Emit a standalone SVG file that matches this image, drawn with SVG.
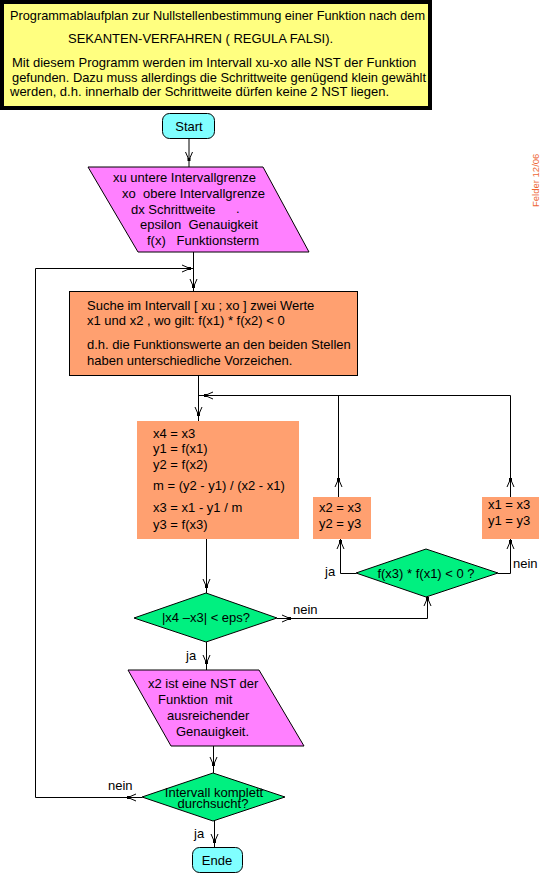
<svg xmlns="http://www.w3.org/2000/svg" xmlns:xlink="http://www.w3.org/1999/xlink" width="548" height="879" viewBox="0 0 548 879">
<style>
text{font-family:"Liberation Sans",Arial,sans-serif;font-size:13px;fill:#000;white-space:pre}
.c{text-anchor:middle}
.ln{fill:none;stroke:#000;stroke-width:1}
.sh{stroke:#000;stroke-width:1}
.cy{fill:#80FFFF}
.mg{fill:#FF80FF}
.or{fill:#FFA070}
.gr{fill:#00F080}
</style>
<defs>
<g id="ah"><path d="M-8,-3.5 L0,0 L-8,3.5" fill="none" stroke="#000" stroke-width="1"/><rect x="-2" y="-1.5" width="3" height="3" fill="#000"/></g>
</defs>
<rect width="548" height="879" fill="#fff"/>

<g id="title">
<rect x="2" y="2" width="428" height="106" fill="#FFFF80"/>
<text x="10" y="20" textLength="415" lengthAdjust="spacingAndGlyphs">Programmablaufplan zur Nullstellenbestimmung einer Funktion nach dem</text>
<text x="68" y="43">SEKANTEN-VERFAHREN ( REGULA FALSI).</text>
<text x="12" y="67">Mit diesem Programm werden im Intervall xu-xo alle NST der Funktion</text>
<text x="12" y="81.5" textLength="414" lengthAdjust="spacingAndGlyphs">gefunden. Dazu muss allerdings die Schrittweite genügend klein gewählt</text>
<text x="10" y="96">werden, d.h. innerhalb der Schrittweite dürfen keine 2 NST liegen.</text>
<rect x="2" y="2" width="428" height="106" fill="none" stroke="#000" stroke-width="4"/>
</g>

<g id="author">
<text transform="translate(539,207) rotate(-90)" style="font-size:9.5px;fill:#EE6633">Felder 12/06</text>
</g>

<g id="start">
<rect x="162.5" y="113.5" width="52" height="25" rx="7" class="cy sh"/>
<text x="189" y="131" class="c">Start</text>
</g>

<g id="input">
<polygon points="88,167 263,167 309,252 138,252" class="mg sh"/>
<text x="113" y="182">xu untere Intervallgrenze</text>
<text x="122" y="198">xo  obere Intervallgrenze</text>
<text x="131" y="214">dx Schrittweite</text>
<text x="236" y="213">.</text>
<text x="140" y="229">epsilon  Genauigkeit</text>
<text x="147" y="245">f(x)   Funktionsterm</text>
</g>

<g id="search">
<rect x="69.5" y="291.5" width="288" height="84" class="or sh"/>
<text x="87" y="310">Suche im Intervall [ xu ; xo ] zwei Werte</text>
<text x="87" y="325">x1 und x2 , wo gilt: f(x1) * f(x2) &lt; 0</text>
<text x="87" y="349">d.h. die Funktionswerte an den beiden Stellen</text>
<text x="87" y="365">haben unterschiedliche Vorzeichen.</text>
</g>

<g id="compute">
<rect x="137" y="421" width="162" height="118" class="or"/>
<text x="153" y="438">x4 = x3</text>
<text x="153" y="453">y1 = f(x1)</text>
<text x="153" y="469">y2 = f(x2)</text>
<text x="153" y="490">m = (y2 - y1) / (x2 - x1)</text>
<text x="153" y="512">x3 = x1 - y1 / m</text>
<text x="153" y="529">y3 = f(x3)</text>
</g>

<g id="assign2">
<rect x="313" y="497" width="58" height="42" class="or"/>
<text x="319" y="512">x2 = x3</text>
<text x="319" y="528">y2 = y3</text>
</g>

<g id="assign1">
<rect x="482" y="497" width="57" height="42" class="or"/>
<text x="488" y="509">x1 = x3</text>
<text x="488" y="525">y1 = y3</text>
</g>

<g id="signcheck">
<polygon points="356,573 426,549 498,573 426,597" class="gr sh"/>
<text x="426" y="578" class="c">f(x3) * f(x1) &lt; 0 ?</text>
</g>

<g id="epscheck">
<polygon points="134,618 206,593 277,618 206,642" class="gr sh"/>
<text x="206" y="622" class="c">|x4 –x3| &lt; eps?</text>
</g>

<g id="result">
<polygon points="128,670 259,670 304,746 171,746" class="mg sh"/>
<text x="148" y="688">x2 ist eine NST der</text>
<text x="158" y="704">Funktion  mit</text>
<text x="167" y="720">ausreichender</text>
<text x="176" y="736">Genauigkeit.</text>
</g>

<g id="donecheck">
<polygon points="142,797 213,773 285,797 213,821" class="gr sh"/>
<text x="214" y="797" class="c">Intervall komplett</text>
<text x="213" y="808" class="c">durchsucht?</text>
</g>

<g id="end">
<rect x="192.5" y="847.5" width="50" height="25" rx="7" class="cy sh"/>
<text x="217" y="865" class="c">Ende</text>
</g>

<g id="connectors">
<path class="ln" d="M189,139 V167"/>
<use xlink:href="#ah" transform="translate(189,160) rotate(90)"/>
<path class="ln" d="M193.5,252 V291"/>
<use xlink:href="#ah" transform="translate(193.5,287) rotate(90)"/>
<path class="ln" d="M142,797.5 H35.5 V268.5 H193.5"/>
<use xlink:href="#ah" transform="translate(190,268.5)"/>
<use xlink:href="#ah" transform="translate(128,797.5) rotate(180)"/>
<path class="ln" d="M198.5,376 V421"/>
<use xlink:href="#ah" transform="translate(198.5,415) rotate(90)"/>
<path class="ln" d="M198.5,395.5 H510.5 V497 M338.5,395.5 V497"/>
<use xlink:href="#ah" transform="translate(205,395.5) rotate(180)"/>
<use xlink:href="#ah" transform="translate(338.5,479) rotate(-90)"/>
<use xlink:href="#ah" transform="translate(510.5,479) rotate(-90)"/>
<path class="ln" d="M356,573.5 H340.5 V539"/>
<use xlink:href="#ah" transform="translate(340.5,541) rotate(-90)"/>
<path class="ln" d="M498,573.5 H510.5 V539"/>
<use xlink:href="#ah" transform="translate(510.5,541) rotate(-90)"/>
<path class="ln" d="M206.5,539 V593"/>
<use xlink:href="#ah" transform="translate(206.5,587) rotate(90)"/>
<path class="ln" d="M277,618.5 H427.5 V597"/>
<use xlink:href="#ah" transform="translate(290,618.5)"/>
<use xlink:href="#ah" transform="translate(427.5,598) rotate(-90)"/>
<path class="ln" d="M206.5,642 V670"/>
<use xlink:href="#ah" transform="translate(206.5,663) rotate(90)"/>
<path class="ln" d="M213.5,746 V773"/>
<use xlink:href="#ah" transform="translate(213.5,765) rotate(90)"/>
<path class="ln" d="M214.5,821 V847"/>
<use xlink:href="#ah" transform="translate(214.5,842) rotate(90)"/>
<text x="325" y="576">ja</text>
<text x="513" y="568">nein</text>
<text x="293" y="614">nein</text>
<text x="186" y="660">ja</text>
<text x="108" y="790">nein</text>
<text x="194" y="838">ja</text>
</g>
</svg>
